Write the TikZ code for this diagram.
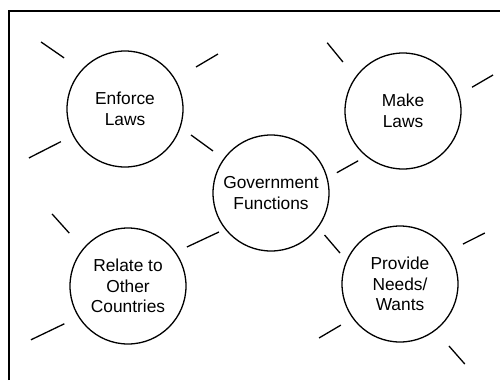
\documentclass[tikz,border=0pt]{standalone}
\usepackage{fontspec}
\setmainfont{Liberation Sans}
\usepackage{tikz}

\begin{document}
\begin{tikzpicture}[x=1bp,y=1bp,
    idea/.style={circle,draw,line width=1.3bp,minimum size=116bp,inner sep=0pt,
      align=center,font=\fontsize{17.4}{20.5}\selectfont},
    ray/.style={line width=1.3bp}]
    \useasboundingbox (0,0) rectangle (500,380);
    \draw[line width=2bp] (9,0) -- (9,369) -- (500,369);
  \node[idea] (gov) at (271,187) {Government\\Functions};
  \node[idea] (enf) at (125,271) {Enforce\\Laws};
  \node[idea] (make) at (403,269) {Make\\Laws};
  \node[idea] (rel) at (128,94) {Relate to\\Other\\Countries};
  \node[idea] (prov) at (400,96) {Provide\\Needs/\\Wants};
  \foreach \n/\a/\r/\b/\s in {enf/140/79.5/141.4/107.4, enf/30.6/82.5/30.6/108,
      enf/207/72/207/107.8, enf/-21.5/71/-25.5/97.5,
      make/140.8/77.5/138/102, make/19/73/21.8/97, make/228/67/223/90.5,
      rel/138/79/136.5/104.7, rel/33.5/70.7/30.7/105.8, rel/210.7/74/209/111,
      prov/152.7/67.5/147/90, prov/32.4/74.6/31/99, prov/214.8/72/213.7/97.3,
      prov/-51.7/79/-51/103}
    \draw[ray] ([shift={(\a:\r)}]\n.center) -- ([shift={(\b:\s)}]\n.center);
\end{tikzpicture}
\end{document}
